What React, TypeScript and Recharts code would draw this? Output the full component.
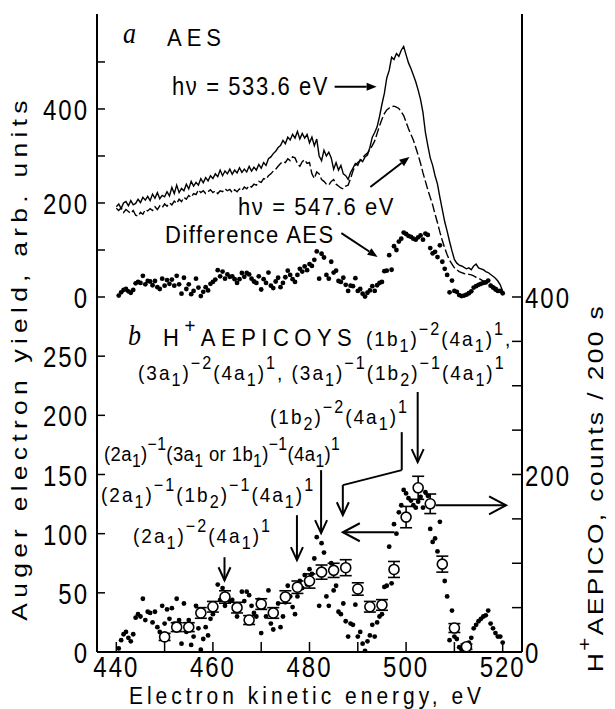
import React from "react";
import {
  ComposedChart,
  Line,
  Scatter,
  XAxis,
  YAxis,
  ErrorBar,
  ReferenceLine
} from "recharts";

const SANS = '"Liberation Sans", Arial, sans-serif';
const SERIF = '"Liberation Serif", "Times New Roman", serif';

// electron kinetic energy grid, eV
const energy = [
  440, 440.5, 441, 441.5, 442, 442.5, 443, 443.5, 444, 444.5,
  445, 445.5, 446, 446.5, 447, 447.5, 448, 448.5, 449, 449.5,
  450, 450.5, 451, 451.5, 452, 452.5, 453, 453.5, 454, 454.5,
  455, 455.5, 456, 456.5, 457, 457.5, 458, 458.5, 459, 459.5,
  460, 460.5, 461, 461.5, 462, 462.5, 463, 463.5, 464, 464.5,
  465, 465.5, 466, 466.5, 467, 467.5, 468, 468.5, 469, 469.5,
  470, 470.5, 471, 471.5, 472, 472.5, 473, 473.5, 474, 474.5,
  475, 475.5, 476, 476.5, 477, 477.5, 478, 478.5, 479, 479.5,
  480, 480.5, 481, 481.5, 482, 482.5, 483, 483.5, 484, 484.5,
  485, 485.5, 486, 486.5, 487, 487.5, 488, 488.5, 489, 489.5,
  490, 490.5, 491, 491.5, 492, 492.5, 493, 493.5, 494, 494.5,
  495, 495.5, 496, 496.5, 497, 497.5, 498, 498.5, 499, 499.5,
  500, 500.5, 501, 501.5, 502, 502.5, 503, 503.5, 504, 504.5,
  505, 505.5, 506, 506.5, 507, 507.5, 508, 508.5, 509, 509.5,
  510, 510.5, 511, 511.5, 512, 512.5, 513, 513.5, 514, 514.5,
  515, 515.5, 516, 516.5, 517, 517.5, 518, 518.5, 519, 519.5,
  520
];

// AES at hv = 533.6 eV (solid)
const aes533 = [
  192, 198, 188, 200, 203, 194, 205, 196, 199, 208,
  201, 212, 206, 214, 205, 219, 210, 222, 209, 216,
  213, 224, 215, 233, 220, 238, 222, 231, 226, 240,
  230, 246, 236, 244, 238, 252, 243, 254, 247, 258,
  252, 262, 256, 270, 258, 268, 262, 272, 261, 270,
  264, 275, 265, 272, 266, 278, 268, 276, 270, 282,
  274, 286, 280, 294, 298, 305, 310, 318, 322, 333,
  326, 340, 334, 346, 338, 352, 336, 348, 338, 346,
  328, 340, 322, 336, 300, 290, 312, 300, 308, 296,
  272, 286, 270, 280, 262, 258, 250, 265, 274, 284,
  280, 292, 288, 298, 302, 318, 340, 350, 362, 384,
  410, 433, 466, 482, 510, 505, 518, 512, 525, 533,
  515, 498, 486, 472, 458, 440, 420, 392, 350, 322,
  296, 280, 258, 240, 212, 186, 160, 140, 118, 98,
  80, 72, 68, 66, 63, 60, 62, 58, 66, 70,
  62, 60, 58, 54, 52, 48, 44, 40, 34, 26,
  12
];

// AES at hv = 547.6 eV (dashed)
const aes547 = [
  189, 184, 190, 180, 186, 182, 178, 184, 174, 172,
  180, 176, 186, 183, 188, 184, 192, 186, 194, 190,
  198, 193, 200, 196, 204, 199, 208, 203, 212, 208,
  216, 212, 220, 218, 228, 222, 226, 220, 224, 228,
  222, 226, 220, 226, 224, 230, 226, 229, 222, 228,
  224, 230, 226, 234, 230, 237, 234, 240, 238, 246,
  244, 252, 250, 258, 262, 268, 272, 278, 284, 288,
  286, 294, 290, 298, 296, 284, 278, 288, 292, 284,
  286, 262, 252, 266, 262, 250, 246, 240, 238, 246,
  250, 240, 236, 232, 230, 236, 238, 252, 268, 280,
  286, 290, 296, 302, 306, 314, 322, 332, 348, 364,
  378, 390, 398, 402, 405, 406, 404, 401, 394, 386,
  372, 358, 346, 334, 318, 302, 284, 264, 246, 228,
  212, 196, 176, 158, 138, 120, 104, 90, 78, 70,
  62, 58, 54, 52, 50, 49, 48, 47, 45, 42,
  40, 37, 34, 33, 30, 27, 24, 21, 18, 13,
  8
];

// difference AES (dots, same values in both panels)
const diffAes = [
  null, 3, 10, 15, 17, 12, 9, 15, 29, 32,
  30, 45, 27, 34, 33, 25, 34, 21, 17, 39,
  24, 36, 28, 37, 24, 45, 27, 7, 41, 17,
  27, 6, 13, 39, 20, 2, 11, 21, 14, 28,
  32, 37, 57, 44, 54, 39, 48, 43, 44, 38,
  30, 38, 51, 43, 51, 48, 39, 33, 30, 44,
  16, 38, 30, 52, 24, 19, 33, 41, 21, 30,
  42, 56, 47, 38, 32, 47, 60, 54, 65, 57,
  70, 66, 79, 97, 39, 92, 84, 47, 39, 75,
  52, 56, 34, 32, 41, 26, 13, 24, 23, 40,
  13, 17, 7, 1, 9, 14, 23, 13, 25, 30,
  32, 55, 56, 89, 58, 108, 100, 118, 124, 137,
  134, 130, 128, 124, 122, 127, 131, 122, 135, 132,
  104, 93, 96, 85, 110, 75, 60, 47, 10, 35,
  13, 11, 4, 2, 3, 5, 8, 12, 20, 23,
  26, 28, 30, 31, 35, 24, 20, 16, 13, 13,
  8
];

// H+ AEPICO counts (open circles, right axis)
const epicoEnergy = [
  450, 452.5, 455, 457.5, 460, 462.5, 465, 467.5, 470, 472.5,
  475, 477.5, 480, 482.5, 485, 487.5, 490, 492.5, 495, 497.5,
  500, 502.5, 505, 507.5, 510, 512.5
];
const epicoCounts = [
  17, 28, 28, 44, 51, 62, 50, 36, 54, 44,
  62, 73, 80, 90, 92, 95, 71, 51, 53, 93,
  152, 185, 167, 99, 27, 6
];
const epicoErr = [
  4, 5, 5, 6, 6, 7, 6, 5, 6, 6,
  7, 7, 8, 8, 8, 9, 7, 6, 6, 9,
  12, 13, 11, 9, 5, 3
];

const xTicks = [440, 450, 460, 470, 480, 490, 500, 510, 520];
const xLabels = [440, 460, 480, 500, 520];
const aesTicks = [0, 100, 200, 300, 400, 500];
const aesLabels = [0, 200, 400];
const yieldTicks = [0, 50, 100, 150, 200, 250];
const countTicks = [0, 50, 100, 150, 200, 250, 300, 350, 400];
const countLabels = [0, 200, 400];

// arrows, in data units: [x1, y1, x2, y2, head]
const topArrows = [
  [485.2, 447, 493.9, 447, 1],
  [492.6, 234, 500.7, 298, 1],
  [486.6, 136, 494.1, 85, 1]
];
const bottomArrows = [
  [502.4, 219.7, 502.4, 160.5, 1],
  [499.1, 185.8, 499.1, 153.7, 0],
  [499.1, 153.7, 486.9, 141, 0],
  [486.9, 141, 486.9, 115.6, 1],
  [482.4, 153.7, 482.4, 100.4, 1],
  [477.4, 115.6, 477.4, 77.6, 1],
  [462.4, 80.1, 462.4, 60.6, 1],
  [497.6, 101.2, 486.9, 101.2, 2],
  [506.2, 124, 520.7, 124, 2]
];

const aesRows = energy.map((e, i) => ({ e, solid: aes533[i], dashed: aes547[i] }));
const diffRows = energy
  .map((e, i) => ({ e, v: diffAes[i] }))
  .filter((r) => r.v != null);
const epicoRows = epicoEnergy.map((e, i) => ({ e, c: epicoCounts[i], err: epicoErr[i] }));

const X_DOMAIN = [436, 524];
const axisLine = { stroke: "#000", strokeWidth: 2 };
const tickLine = { stroke: "#000", strokeWidth: 1.5 };
const STRETCH = 1.25;

const tickText = (x, y, value, anchor) => (
  <text
    transform={`translate(${x},${y}) scale(1,${STRETCH})`}
    textAnchor={anchor}
    fontSize={24}
    letterSpacing={2}
    fontFamily={SANS}
    fill="#000"
  >
    {value}
  </text>
);

const noTick = () => <g />;
const xTick = (p) =>
  xLabels.includes(p.payload.value) ? tickText(p.x, p.y + 21, p.payload.value, "middle") : <g />;
const leftTick = (labels) => (p) =>
  labels.includes(p.payload.value) ? tickText(p.x, p.y + 11, p.payload.value, "end") : <g />;
const rightTick = (p) =>
  countLabels.includes(p.payload.value) ? tickText(p.x, p.y + 11, p.payload.value, "start") : <g />;

const arrowShape = (head, filled) => (p) => {
  const { x1, y1, x2, y2 } = p;
  const dx = x2 - x1;
  const dy = y2 - y1;
  const L = Math.hypot(dx, dy) || 1;
  const ux = dx / L;
  const uy = dy / L;
  const len = filled ? 10 : head === 2 ? 17 : 13;
  const hw = filled ? 4 : head === 2 ? 9 : 6;
  const bx = x2 - ux * len;
  const by = y2 - uy * len;
  const ax = bx - uy * hw;
  const ay = by + ux * hw;
  const cx = bx + uy * hw;
  const cy = by - ux * hw;
  return (
    <g>
      <line x1={x1} y1={y1} x2={filled ? bx : x2} y2={filled ? by : y2} stroke="#000" strokeWidth={2} />
      {head > 0 && filled && <polygon points={`${x2},${y2} ${ax},${ay} ${cx},${cy}`} fill="#000" />}
      {head > 0 && !filled && (
        <polyline points={`${ax},${ay} ${x2},${y2} ${cx},${cy}`} fill="none" stroke="#000" strokeWidth={2} />
      )}
    </g>
  );
};

const dotShape = (p) => <circle cx={p.cx} cy={p.cy} r={2.4} fill="#000" />;
const ringShape = (p) => (
  <circle cx={p.cx} cy={p.cy} r={5} fill="#fff" stroke="#000" strokeWidth={1.6} />
);

function parseFormula(src) {
  const out = [];
  let buf = "";
  let i = 0;
  while (i < src.length) {
    const ch = src[i];
    if (ch === "_" || ch === "^") {
      if (buf) out.push({ t: buf, k: 0 });
      buf = "";
      let t;
      if (src[i + 1] === "{") {
        const j = src.indexOf("}", i);
        t = src.slice(i + 2, j);
        i = j + 1;
      } else {
        t = src[i + 1];
        i += 2;
      }
      out.push({ t, k: ch === "_" ? 1 : 2 });
    } else {
      buf += ch;
      i++;
    }
  }
  if (buf) out.push({ t: buf, k: 0 });
  return out;
}

function Rich({ x, y, src, size, ls = 0, sy = 1.2, rotate = false, sx = 1, anchor = "start" }) {
  let cur = 0;
  const parts = parseFormula(src);
  const tf = rotate
    ? `translate(${x},${y}) rotate(-90) scale(${sx},1)`
    : `translate(${x},${y}) scale(1,${sy})`;
  return (
    <text
      transform={tf}
      fontSize={size}
      letterSpacing={ls}
      fontFamily={SANS}
      fill="#000"
      textAnchor={anchor}
      style={{ whiteSpace: "pre" }}
    >
      {parts.map((p, i) => {
        const target = p.k === 1 ? size * 0.3 : p.k === 2 ? -size * 0.55 : 0;
        const dy = target - cur;
        cur = target;
        return (
          <tspan key={i} dy={dy} fontSize={p.k === 0 ? size : size * 0.85}>
            {p.t}
          </tspan>
        );
      })}
    </text>
  );
}

function Italic({ x, y, children }) {
  return (
    <text
      transform={`translate(${x},${y}) scale(1,1.1)`}
      fontSize={26}
      fontStyle="italic"
      fontFamily={SERIF}
      fill="#000"
    >
      {children}
    </text>
  );
}

export default function App() {
  return (
    <div style={{ position: "absolute", left: 0, top: 0, width: 615, height: 709, background: "#fff", overflow: "hidden" }}>
      <style>{`.recharts-surface{overflow:visible}`}</style>

      {/* panel a: AES */}
      <div style={{ position: "absolute", left: 0, top: 0 }}>
        <ComposedChart width={615} height={330} data={aesRows} margin={{ top: 14, right: 0, bottom: 33, left: 0 }}>
          <XAxis dataKey="e" type="number" domain={X_DOMAIN} ticks={xTicks} interval={0} height={0}
            axisLine={axisLine} tickLine={tickLine} tickSize={-11} tick={noTick} />
          <XAxis xAxisId="top" orientation="top" type="number" domain={X_DOMAIN} height={0}
            axisLine={axisLine} tickLine={false} tick={false} />
          <YAxis type="number" domain={[0, 602]} ticks={aesTicks} interval={0} width={97}
            axisLine={axisLine} tickLine={tickLine} tickSize={-8} tickMargin={16} tick={leftTick(aesLabels)} />
          <YAxis yAxisId="r" orientation="right" type="number" domain={[0, 602]} width={93}
            axisLine={axisLine} tickLine={false} tick={false} />
          <Line dataKey="solid" type="linear" stroke="#000" strokeWidth={1.4} dot={false} isAnimationActive={false} />
          <Line dataKey="dashed" type="linear" stroke="#000" strokeWidth={1.4} strokeDasharray="9 3" dot={false} isAnimationActive={false} />
          <Scatter data={diffRows} dataKey="v" shape={dotShape} isAnimationActive={false} />
          {topArrows.map((a, i) => (
            <ReferenceLine key={i} segment={[{ x: a[0], y: a[1] }, { x: a[2], y: a[3] }]}
              shape={arrowShape(a[4], true)} />
          ))}
        </ComposedChart>
      </div>

      {/* panel b: H+ AEPICOYS */}
      <div style={{ position: "absolute", left: 0, top: 297 }}>
        <ComposedChart width={615} height={412} margin={{ top: 0, right: 0, bottom: 0, left: 0 }}>
          <XAxis dataKey="e" type="number" domain={X_DOMAIN} ticks={xTicks} interval={0} height={57}
            axisLine={axisLine} tickLine={tickLine} tickSize={-10} tickMargin={14} tick={xTick} />
          <XAxis xAxisId="top" orientation="top" type="number" domain={X_DOMAIN} ticks={xTicks} interval={0} height={0}
            axisLine={axisLine} tickLine={tickLine} tickSize={-11} tick={noTick} />
          <YAxis yAxisId="left" type="number" domain={[0, 300]} ticks={yieldTicks} interval={0} width={97}
            axisLine={axisLine} tickLine={tickLine} tickSize={-8} tickMargin={16} tick={leftTick(yieldTicks)} />
          <YAxis yAxisId="right" orientation="right" type="number" domain={[0, 400]} ticks={countTicks} interval={0} width={93}
            axisLine={axisLine} tickLine={tickLine} tickSize={-10} tickMargin={13} tick={rightTick} />
          <Scatter yAxisId="left" data={diffRows} dataKey="v" shape={dotShape} isAnimationActive={false} />
          <Scatter yAxisId="right" data={epicoRows} dataKey="c" shape={ringShape} isAnimationActive={false}>
            <ErrorBar dataKey="err" direction="y" width={6} stroke="#000" strokeWidth={1.6} />
          </Scatter>
          {bottomArrows.map((a, i) => (
            <ReferenceLine key={i} yAxisId="left" segment={[{ x: a[0], y: a[1] }, { x: a[2], y: a[3] }]}
              shape={arrowShape(a[4], false)} />
          ))}
        </ComposedChart>
      </div>

      {/* labels */}
      <svg width={615} height={709} style={{ position: "absolute", left: 0, top: 0, pointerEvents: "none", overflow: "visible" }}>
        <Italic x={123} y={43}>a</Italic>
        <Rich x={167} y={46} src="AES" size={22} ls={5} sy={1.05} />
        <Rich x={172} y={95} src="hν = 533.6 eV" size={22} ls={1.6} />
        <Rich x={238} y={215} src="hν = 547.6 eV" size={22} ls={1.6} sy={1.1} />
        <Rich x={165} y={243} src="Difference AES" size={22} ls={1.5} sy={1.1} />

        <Italic x={128} y={345}>b</Italic>
        <Rich x={163} y={346} src="H^+AEPICOYS" size={22} ls={5.5} sy={1.05} />
        <Rich x={366} y={346} src="(1b_1)^{−2}(4a_1)^1," size={19} ls={2} sy={1.1} />
        <Rich x={138} y={380} src="(3a_1)^{−2}(4a_1)^1, (3a_1)^{−1}(1b_2)^{−1}(4a_1)^1" size={19} ls={2} sy={1.1} />
        <Rich x={270} y={424} src="(1b_2)^{−2}(4a_1)^1" size={19} ls={2} sy={1.1} />
        <Rich x={104} y={461} src="(2a_1)^{−1}(3a_1 or 1b_1)^{−1}(4a_1)^1" size={18.5} ls={0.4} sy={1.13} />
        <Rich x={101} y={502} src="(2a_1)^{−1}(1b_2)^{−1}(4a_1)^1" size={19} ls={2} sy={1.1} />
        <Rich x={133} y={543} src="(2a_1)^{−2}(4a_1)^1" size={19} ls={2} sy={1.1} />

        <Rich x={307} y={704} src="Electron kinetic energy, eV" size={21} ls={4} sy={1.1} anchor="middle" />
        <Rich x={27} y={358} src="Auger electron yield, arb. units" size={22} ls={4.4} rotate sx={1.2} anchor="middle" />
        <Rich x={603} y={488} src="H^+AEPICO, counts / 200 s" size={22} ls={2} rotate sx={1.2} anchor="middle" />
      </svg>
    </div>
  );
}
